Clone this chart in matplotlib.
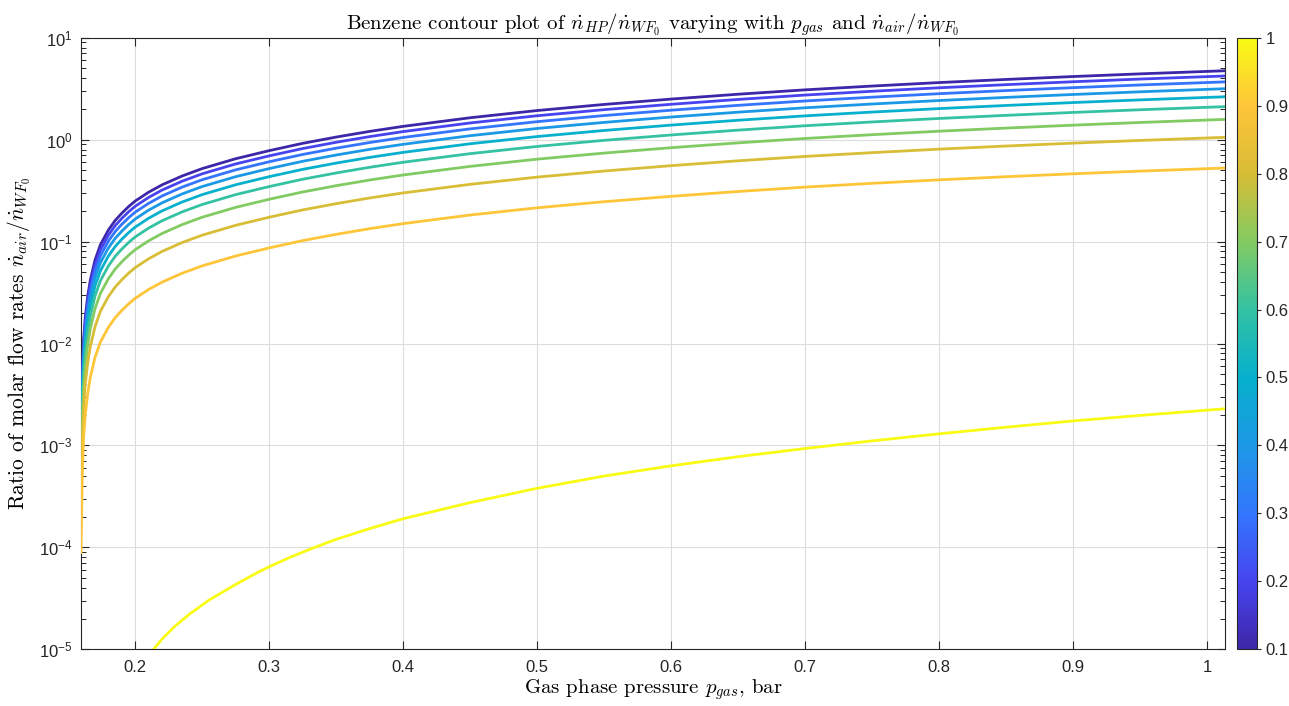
import numpy as np
import matplotlib
matplotlib.use("Agg")
import matplotlib.pyplot as plt
from matplotlib.colors import LinearSegmentedColormap, Normalize
from matplotlib.ticker import FixedLocator, FuncFormatter, LogLocator, NullFormatter
import matplotlib.cm as cm

plt.rcParams['mathtext.fontset'] = 'cm'
plt.rcParams['font.family'] = ['Liberation Sans', 'DejaVu Sans']

# ---------------- data ----------------
levels = [0.1, 0.2, 0.3, 0.4, 0.5, 0.6, 0.7, 0.8, 0.9]

p_gas = [0.1595, 0.1605, 0.1615, 0.1627, 0.1645, 0.1665, 0.170, 0.174, 0.180, 0.185, 0.190, 0.195,
         0.200, 0.210, 0.220, 0.235, 0.250, 0.275, 0.300, 0.325, 0.350, 0.375, 0.400, 0.450,
         0.500, 0.550, 0.600, 0.650, 0.700, 0.750, 0.800, 0.850, 0.900, 0.950, 1.01325]

ratio_01 = [0.0008, 0.005, 0.011, 0.018, 0.029, 0.042, 0.066, 0.093, 0.130, 0.161, 0.190, 0.220,
            0.250, 0.305, 0.360, 0.440, 0.520, 0.650, 0.780, 0.920, 1.060, 1.205, 1.350, 1.640,
            1.930, 2.215, 2.500, 2.790, 3.080, 3.355, 3.630, 3.895, 4.160, 4.420, 4.740]
ratio_02 = [0.000711, 0.00444, 0.00978, 0.016, 0.0258, 0.0373, 0.0587, 0.0827, 0.1156, 0.1431, 0.1689, 0.1956,
            0.2222, 0.2711, 0.32, 0.3911, 0.4622, 0.5778, 0.6933, 0.8178, 0.9422, 1.0711, 1.2, 1.4578,
            1.7156, 1.9689, 2.2222, 2.48, 2.7378, 2.9822, 3.2267, 3.4622, 3.6978, 3.9289, 4.2133]
ratio_03 = [0.000622, 0.00389, 0.00856, 0.014, 0.02256, 0.03267, 0.05133, 0.07233, 0.1011, 0.1252, 0.1478, 0.1711,
            0.1944, 0.2372, 0.28, 0.3422, 0.4044, 0.5056, 0.6067, 0.7156, 0.8244, 0.9372, 1.05, 1.2756,
            1.5011, 1.7228, 1.9444, 2.17, 2.3956, 2.6094, 2.8233, 3.0294, 3.2356, 3.4378, 3.6867]
ratio_04 = [0.000533, 0.00333, 0.00733, 0.012, 0.01933, 0.028, 0.044, 0.062, 0.08667, 0.10733, 0.12667, 0.14667,
            0.16667, 0.20333, 0.24, 0.29333, 0.34667, 0.43333, 0.52, 0.61333, 0.70667, 0.80333, 0.9, 1.09333,
            1.28667, 1.47667, 1.66667, 1.86, 2.05333, 2.23667, 2.42, 2.59667, 2.77333, 2.94667, 3.16]
ratio_05 = [0.000444, 0.00278, 0.00611, 0.01, 0.01611, 0.02333, 0.03667, 0.05167, 0.07222, 0.08944, 0.10556, 0.12222,
            0.13889, 0.16944, 0.2, 0.24444, 0.28889, 0.36111, 0.43333, 0.51111, 0.58889, 0.66944, 0.75, 0.91111,
            1.07222, 1.23056, 1.38889, 1.55, 1.71111, 1.86389, 2.01667, 2.16389, 2.31111, 2.45556, 2.63333]
ratio_06 = [0.000356, 0.00222, 0.00489, 0.008, 0.01289, 0.01867, 0.02933, 0.04133, 0.05778, 0.07156, 0.08444, 0.09778,
            0.11111, 0.13556, 0.16, 0.19556, 0.23111, 0.28889, 0.34667, 0.40889, 0.47111, 0.53556, 0.6, 0.72889,
            0.85778, 0.98444, 1.11111, 1.24, 1.36889, 1.49111, 1.61333, 1.73111, 1.84889, 1.96444, 2.10667]
ratio_07 = [0.000267, 0.00167, 0.00367, 0.006, 0.00967, 0.014, 0.022, 0.031, 0.04333, 0.05367, 0.06333, 0.07333,
            0.08333, 0.10167, 0.12, 0.14667, 0.17333, 0.21667, 0.26, 0.30667, 0.35333, 0.40167, 0.45, 0.54667,
            0.64333, 0.73833, 0.83333, 0.93, 1.02667, 1.11833, 1.21, 1.29833, 1.38667, 1.47333, 1.58]
ratio_08 = [0.000178, 0.00111, 0.00244, 0.004, 0.00644, 0.00933, 0.01467, 0.02067, 0.02889, 0.03578, 0.04222, 0.04889,
            0.05556, 0.06778, 0.08, 0.09778, 0.11556, 0.14444, 0.17333, 0.20444, 0.23556, 0.26778, 0.3, 0.36444,
            0.42889, 0.49222, 0.55556, 0.62, 0.68444, 0.74556, 0.80667, 0.86556, 0.92444, 0.98222, 1.05333]
ratio_09 = [0.0000889, 0.000556, 0.00122, 0.002, 0.00322, 0.00467, 0.00733, 0.01033, 0.01444, 0.01789, 0.02111, 0.02444,
            0.02778, 0.03389, 0.04, 0.04889, 0.05778, 0.07222, 0.08667, 0.10222, 0.11778, 0.13389, 0.15, 0.18222,
            0.21444, 0.24611, 0.27778, 0.31, 0.34222, 0.37278, 0.40333, 0.43278, 0.46222, 0.49111, 0.52667]

level_top = 1.0
p_gas_top = [0.200, 0.2065, 0.2137, 0.220, 0.2291, 0.240, 0.2547, 0.265, 0.2755, 0.290, 0.300, 0.316,
             0.332, 0.350, 0.375, 0.400, 0.450, 0.500, 0.550, 0.600, 0.650, 0.700, 0.750, 0.800,
             0.850, 0.900, 0.950, 1.01325]
ratio_10 = [5.6e-6, 7.59e-6, 1.0e-5, 1.26e-5, 1.66e-5, 2.19e-5, 3.02e-5, 3.63e-5, 4.37e-5, 5.56e-5, 6.46e-5, 8.04e-5,
            9.77e-5, 1.20e-4, 1.53e-4, 1.91e-4, 2.75e-4, 3.80e-4, 5.01e-4, 6.31e-4, 7.76e-4, 9.33e-4, 1.109e-3, 1.30e-3,
            1.51e-3, 1.74e-3, 1.97e-3, 2.29e-3]

x_ticks = [0.2, 0.3, 0.4, 0.5, 0.6, 0.7, 0.8, 0.9, 1.0]
x_ticklabels = ['0.2', '0.3', '0.4', '0.5', '0.6', '0.7', '0.8', '0.9', '1']
y_ticks = [1e-5, 1e-4, 1e-3, 1e-2, 1e-1, 1e0, 1e1]
y_ticklabels = [r'$\mathregular{10^{-5}}$', r'$\mathregular{10^{-4}}$', r'$\mathregular{10^{-3}}$',
                r'$\mathregular{10^{-2}}$', r'$\mathregular{10^{-1}}$', r'$\mathregular{10^{0}}$',
                r'$\mathregular{10^{1}}$']
cbar_ticks = [0.1, 0.2, 0.3, 0.4, 0.5, 0.6, 0.7, 0.8, 0.9, 1.0]
cbar_ticklabels = ['0.1', '0.2', '0.3', '0.4', '0.5', '0.6', '0.7', '0.8', '0.9', '1']

# ---------------- colormap (parula-like) ----------------
parula_anchors = [
    (0.2422, 0.1504, 0.6603),
    (0.2780, 0.2700, 0.9400),
    (0.2000, 0.4650, 0.9900),
    (0.1100, 0.6000, 0.9000),
    (0.0250, 0.6900, 0.8000),
    (0.2000, 0.7600, 0.6400),
    (0.5100, 0.7950, 0.3850),
    (0.8450, 0.7400, 0.2100),
    (0.9950, 0.7700, 0.2250),
    (0.9769, 0.9839, 0.0805),
]
parula = LinearSegmentedColormap.from_list('parula', parula_anchors, N=256)
norm = Normalize(vmin=0.1, vmax=1.0)

# ---------------- figure ----------------
W, H = 1289, 706
fig = plt.figure(figsize=(W / 100, H / 100), dpi=100)
ax = fig.add_axes([80.7 / W, 1 - 649.3 / H, (1225 - 80.7) / W, (649.3 - 37.7) / H])

series = [ratio_01, ratio_02, ratio_03, ratio_04, ratio_05, ratio_06, ratio_07, ratio_08, ratio_09]
for lev, ys in zip(levels, series):
    ax.plot(p_gas, ys, color=parula(norm(lev)), lw=2.0, solid_joinstyle='round', zorder=3)
ax.plot(p_gas_top, ratio_10, color=parula(norm(level_top)), lw=2.0, solid_joinstyle='round', zorder=3)

ax.set_yscale('log')
ax.set_xlim(0.1593, 1.01325)
ax.set_ylim(1e-5, 10)

axis_col = '#262626'
for s in ax.spines.values():
    s.set_color(axis_col)
    s.set_linewidth(0.8)

ax.xaxis.set_major_locator(FixedLocator(x_ticks))
ax.set_xticklabels(x_ticklabels)
ax.yaxis.set_major_locator(FixedLocator(y_ticks))
ax.set_yticklabels(y_ticklabels)
ax.yaxis.set_minor_locator(LogLocator(base=10, subs=np.arange(2, 10), numticks=20))
ax.yaxis.set_minor_formatter(NullFormatter())

ax.tick_params(axis='both', which='both', direction='in', top=True, right=True,
               colors=axis_col, labelcolor=axis_col)
ax.tick_params(axis='x', which='major', length=6, width=0.8, labelsize=12, pad=8)
ax.tick_params(axis='y', which='major', length=6, width=0.8, labelsize=12, pad=6)
ax.tick_params(axis='y', which='minor', length=3.5, width=0.7)

ax.grid(True, which='major', color='#dcdcdc', lw=0.8, zorder=0)
ax.set_axisbelow(True)

ax.set_title(r'Benzene contour plot of $\dot{n}_{HP}/\dot{n}_{WF_0}$ varying with $p_{gas}$ and $\dot{n}_{air}/\dot{n}_{WF_0}$',
             fontfamily='cmr10', fontsize=15, color='black', pad=6)
ax.set_xlabel(r'Gas phase pressure $p_{gas}$, bar', fontfamily='cmr10', fontsize=15, labelpad=1)
ax.set_ylabel(r'Ratio of molar flow rates $\dot{n}_{air}/\dot{n}_{WF_0}$', fontfamily='cmr10',
              fontsize=15.5, labelpad=4)

# ---------------- colorbar ----------------
cax = fig.add_axes([1236.7 / W, 1 - 649.3 / H, 20.6 / W, (649.3 - 37.7) / H])
sm = cm.ScalarMappable(norm=norm, cmap=parula)
cb = fig.colorbar(sm, cax=cax)
cb.set_ticks(cbar_ticks)
cb.set_ticklabels(cbar_ticklabels)
cb.outline.set_edgecolor(axis_col)
cb.outline.set_linewidth(0.8)
cax.tick_params(direction='out', length=3, width=0.8, labelsize=12, colors=axis_col, pad=3)

fig.savefig('out.png', dpi=100)
